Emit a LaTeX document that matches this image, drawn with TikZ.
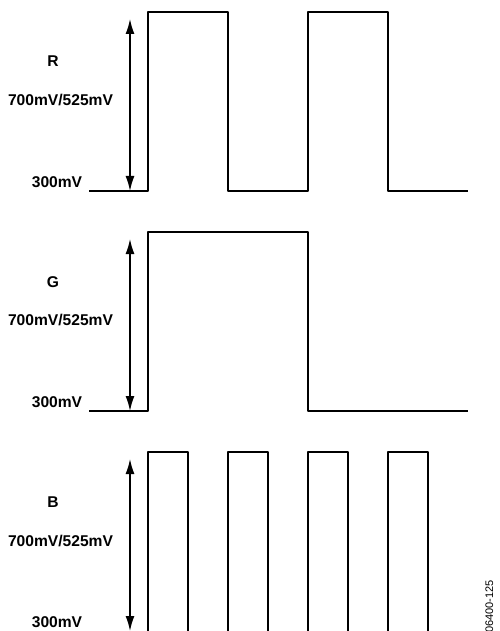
\documentclass[tikz,border=0pt]{standalone}
\usepackage{fontspec}
\setmainfont{Liberation Sans}
\usetikzlibrary{arrows.meta}
\begin{document}
\begin{tikzpicture}[x=1pt,y=-1pt,
  wave/.style={line width=2.2pt,line join=round,line cap=butt},
  span/.style={line width=1.5pt,{Latex[length=15pt,width=9pt]}-{Latex[length=15pt,width=9pt]}},
  lbl/.style={font=\fontsize{15.6}{17}\selectfont\bfseries,inner sep=0pt},
  code/.style={font=\fontsize{11}{12}\selectfont,inner sep=0pt,rotate=90,anchor=base west}]
\useasboundingbox (0,0) rectangle (499,631);
% R
\node[lbl] (rname) at (53,61) {R};
\node[lbl] (rlev) at (60.5,100) {700mV/525mV};
\node[lbl] (rlow) at (57,182) {300mV};
\coordinate (rtop) at (130,19);
\coordinate (rbot) at (130,191);
\draw[span] (rtop) -- (rbot);
\draw[wave] (89,191) -- (148,191) -- (148,12) -- (228,12) -- (228,191) -- (308,191) -- (308,12) -- (388,12) -- (388,191) -- (468,191);
% G
\node[lbl] (gname) at (53,282) {G};
\node[lbl] (glev) at (60.5,320) {700mV/525mV};
\node[lbl] (glow) at (57,402) {300mV};
\coordinate (gtop) at (130,239);
\coordinate (gbot) at (130,411);
\draw[span] (gtop) -- (gbot);
\draw[wave] (89,411) -- (148,411) -- (148,232) -- (308,232) -- (308,411) -- (468,411);
% B
\node[lbl] (bname) at (53,502) {B};
\node[lbl] (blev) at (60.5,541) {700mV/525mV};
\node[lbl] (blow) at (57,622) {300mV};
\coordinate (btop) at (130,459);
\coordinate (bbot) at (130,631);
\draw[span] (btop) -- (bbot);
\draw[wave] (89,632) -- (148,632) -- (148,452) -- (188,452) -- (188,632) -- (228,632) -- (228,452) -- (268,452) -- (268,632) -- (308,632) -- (308,452) -- (348,452) -- (348,632) -- (388,632) -- (388,452) -- (428,452) -- (428,632) -- (468,632);
\node[code] (fig) at (493,633) {06400-125};
\end{tikzpicture}
\end{document}
